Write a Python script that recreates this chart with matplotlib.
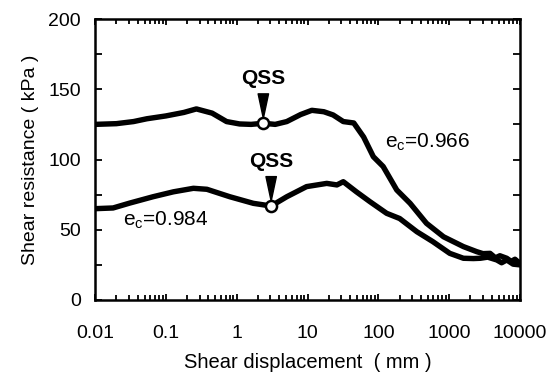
import matplotlib
matplotlib.use("Agg")
import matplotlib.pyplot as plt
import numpy as np
from matplotlib.ticker import FixedLocator, FixedFormatter, LogLocator, MultipleLocator

plt.rcParams["font.family"] = ["Liberation Sans", "DejaVu Sans"]

# upper curve, e_c = 0.966
disp_966 = [0.01, 0.02, 0.035, 0.054, 0.1, 0.18, 0.27, 0.45, 0.72, 1.1, 1.6, 2.38,
            3.5, 5.1, 8, 11.5, 17, 23, 32, 45, 62, 85, 117, 182, 281, 478, 833,
            1590, 2450, 3000, 3780, 4500, 5200, 6500, 7500, 8500, 10000]
tau_966 = [125, 125.5, 127, 129, 131, 133.5, 136, 133, 127, 125.3, 125, 125.8,
           125, 127, 132, 135, 134, 131.7, 127, 126, 116, 102, 95, 78.3, 68.8, 54.6, 45,
           38, 34.4, 33, 33.2, 30, 31.5, 29.7, 27.5, 29, 26]

# lower curve, e_c = 0.984
disp_984 = [0.01, 0.018, 0.031, 0.066, 0.128, 0.245, 0.38, 0.8, 1.72, 3.07, 5.1,
            9.7, 18.7, 26, 32, 49, 76, 131, 200, 350, 590, 1020, 1590, 2200, 2750,
            3500, 4700, 5500, 6500, 8000, 10000]
tau_984 = [65, 65.5, 69, 73.5, 77, 79.5, 78.8, 73.5, 68.8, 66.9, 73.5,
           80.7, 83, 81.9, 84.2, 77, 70, 61.7, 58, 48.6, 41.5, 33.2, 29.7, 29.5, 29.7,
           30.5, 28.5, 26.5, 28.5, 25.5, 25]

qss_966 = (2.38, 125.8)
qss_984 = (3.07, 66.9)

xticks = [0.01, 0.1, 1, 10, 100, 1000, 10000]
xticklabels = ["0.01", "0.1", "1", "10", "100", "1000", "10000"]

fig = plt.figure(figsize=(5.55, 3.74), dpi=100)
ax = fig.add_axes([95 / 555, 1 - 300 / 374, 425 / 555, 281 / 374])

ax.plot(disp_966, tau_966, color="k", lw=3.9, solid_joinstyle="round", zorder=3)
ax.plot(disp_984, tau_984, color="k", lw=3.9, solid_joinstyle="round", zorder=3)

for pt in [qss_966, qss_984]:
    ax.plot(*pt, "o", ms=8, mfc="white", mec="k", mew=1.8, zorder=5)
    ax.annotate("QSS", xy=pt, xytext=(0, 32), textcoords="offset points",
                ha="center", va="center", fontsize=15, fontweight="bold",
                arrowprops=dict(arrowstyle="wedge,tail_width=0.5", fc="k", ec="k",
                                shrinkA=2, shrinkB=3.5), zorder=4)

ax.text(124, 112, "e$_\\mathregular{c}$=0.966", fontsize=15, va="center", ha="left")
ax.text(0.0248, 56.5, "e$_\\mathregular{c}$=0.984", fontsize=15, va="center", ha="left")

ax.set_xscale("log")
ax.set_xlim(0.01, 10000)
ax.set_ylim(0, 200)
ax.xaxis.set_major_locator(FixedLocator(xticks))
ax.xaxis.set_major_formatter(FixedFormatter(xticklabels))
ax.xaxis.set_minor_locator(LogLocator(base=10, subs=np.arange(2, 10)))
ax.yaxis.set_major_locator(MultipleLocator(50))
ax.yaxis.set_minor_locator(MultipleLocator(25))

ax.tick_params(which="both", direction="in", top=True, right=True, width=1.3, labelsize=14)
ax.tick_params(axis="x", which="major", length=4.5, pad=18)
ax.tick_params(axis="x", which="minor", length=3.5)
ax.tick_params(axis="y", which="both", length=5, pad=10)
for s in ax.spines.values():
    s.set_linewidth(1.8)

ax.set_xlabel("Shear displacement  ( mm )", fontsize=14.5, labelpad=8)
ax.set_ylabel("Shear resistance ( kPa )", fontsize=14, labelpad=7)

fig.savefig("out.png", dpi=100)
